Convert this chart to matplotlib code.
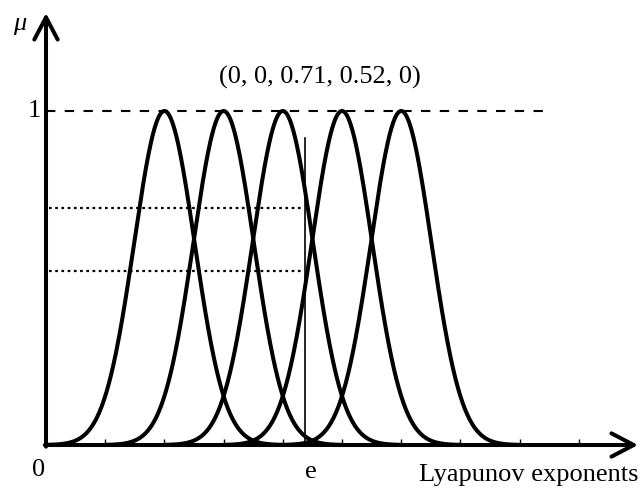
import numpy as np
import matplotlib
matplotlib.use("Agg")
import matplotlib.pyplot as plt

# ---- data ----
centers = [2, 3, 4, 5, 6]          # centres of the Gaussian membership functions
sigma = 0.51                        # common width
e_value = 4.38                      # position of the measured exponent "e"
memberships = [0, 0, 0.71, 0.52, 0] # membership degrees at e
annotation = "(0, 0, 0.71, 0.52, 0)"
x_ticks = [1, 2, 3, 4, 5, 6, 7, 8, 9]

# ---- figure ----
W, H, DPI = 642, 492, 100
fig = plt.figure(figsize=(W / DPI, H / DPI), dpi=DPI)
ax = fig.add_axes([0, 0, 1, 1])
x0_px, unit_px = 46, 59.2
y0_px, y1_px = 445, 111
yunit = y0_px - y1_px
ax.set_xlim(-x0_px / unit_px, (W - x0_px) / unit_px)
ax.set_ylim(-(H - y0_px) / yunit, y0_px / yunit)
for s in ax.spines.values():
    s.set_visible(False)
ax.spines['bottom'].set_position(('data', 0))
ax.set_xticks(x_ticks)
ax.tick_params(axis='x', direction='in', length=4, width=1, labelbottom=False, color='black')
ax.set_yticks([])

serif = ['Liberation Serif', 'DejaVu Serif']
fs = 19

# membership curves
for c in centers:
    xs = np.linspace(c - 2, c + 2, 400)
    ax.plot(xs, np.exp(-(xs - c) ** 2 / (2 * sigma ** 2)), color='black', lw=2.9,
            solid_capstyle='round', zorder=3)

# dashed line at mu = 1
ax.plot([0, 8.55], [1, 1], color='black', lw=1.5, linestyle=(0, (4.5, 4.5)), zorder=2)

# dotted lines at the membership degrees
for m in memberships:
    if m > 0:
        ax.plot([0.05, e_value - 0.05], [m, m], color='black', lw=1.6,
                linestyle=(0, (1.2, 1.6)), zorder=2)

# vertical line at e
ax.plot([e_value, e_value], [0, 0.92], color='black', lw=1.2, zorder=2)

# axes arrows
xtip = (638 - x0_px) / unit_px
ytip = (y0_px - 13) / yunit
arrow = dict(arrowstyle='->,head_length=0.8,head_width=0.42', lw=2.9, color='black',
             shrinkA=0, shrinkB=0, mutation_scale=20)
ax.annotate('', xy=(xtip, 0), xytext=(-0.02, 0), arrowprops=arrow, zorder=4)
ax.annotate('', xy=(0, ytip), xytext=(0, -0.005), arrowprops=arrow, zorder=4)

# texts
ax.text(-0.12, -0.075, '0', fontsize=fs, family=serif, ha='center', va='center')
ax.text(e_value + 0.1, -0.08, 'e', fontsize=fs, family=serif, ha='center', va='center')
ax.text(10.0, -0.09, 'Lyapunov exponents', fontsize=fs, family=serif, ha='right', va='center')
ax.text(-0.19, 1.0, '1', fontsize=fs, family=serif, ha='center', va='center')
ax.text(-0.44, 1.26, 'μ', fontsize=fs, family=serif, style='italic', ha='center', va='center')
ax.text(4.63, 1.1, annotation, fontsize=fs, family=serif, ha='center', va='center')

fig.savefig('out.png', dpi=DPI)
